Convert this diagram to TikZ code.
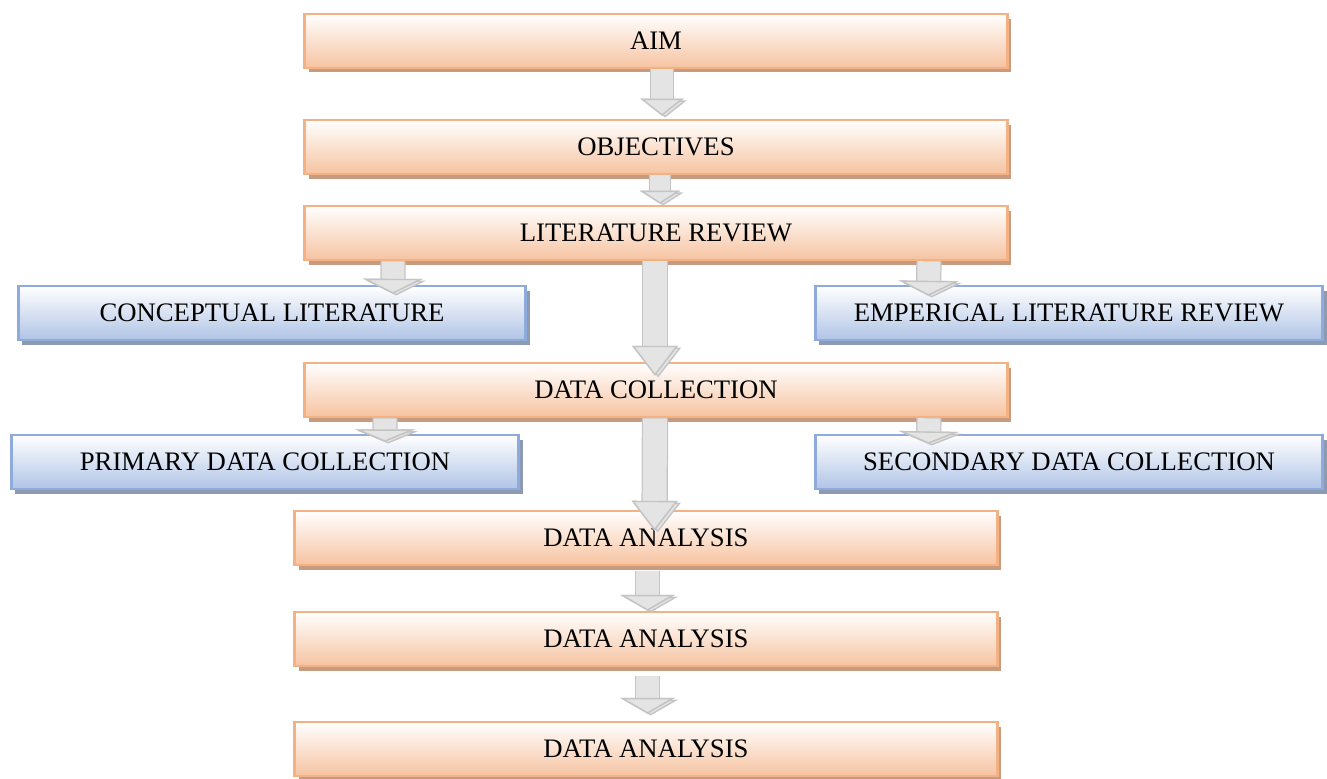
\documentclass[tikz,border=0pt]{standalone}
\usepackage{fontspec}
\setmainfont{Liberation Serif}
\usepackage{tikz}
\usetikzlibrary{calc}
\usetikzlibrary{positioning}
\usetikzlibrary{shadows}
\usetikzlibrary{arrows.meta}
\definecolor{stepLine}{HTML}{F4B183}
\definecolor{stepFill}{HTML}{F6C3A0}
\definecolor{stepShadow}{HTML}{C69B80}
\definecolor{sideLine}{HTML}{8FAADC}
\definecolor{sideFill}{HTML}{B0C4E6}
\definecolor{sideShadow}{HTML}{8C9AB2}
\definecolor{arrowFill}{HTML}{E4E4E4}
\definecolor{arrowEdge}{HTML}{C4C4C4}
\definecolor{arrowShadow}{HTML}{A0A0A0}
\tikzstyle{boxtext} = [font=\fontsize{15.2}{18}\selectfont, minimum height=1.08cm, inner sep=0pt]
\tikzstyle{stepnode} = [boxtext, draw=stepLine, line width=1.5pt, top color=white, bottom color=stepFill, minimum width=14.06cm, drop shadow={shadow xshift=.08cm, shadow yshift=-.09cm, fill=stepShadow, opacity=1}]
\tikzstyle{sidenode} = [boxtext, draw=sideLine, line width=1.5pt, top color=white, bottom color=sideFill, minimum width=10.15cm, drop shadow={shadow xshift=.08cm, shadow yshift=-.09cm, fill=sideShadow, opacity=1}]
\tikzset{
  blockarrow/.style n args={3}{draw=arrowFill, line width=#1,
    -{Triangle[width=#2, length=#3, line width=.8pt, color=arrowEdge, fill=arrowFill]},
    preaction={draw=arrowShadow, transform canvas={xshift=1.8pt, yshift=-1pt}},
    preaction={draw=arrowEdge, line width=#1+1.4pt}}
}

\begin{document}
\begin{tikzpicture}[x=0.02cm, y=-0.02cm]
\useasboundingbox (0,0) rectangle (1327,778);

\node[stepnode] (aim) at (656,41) {AIM};
\node[stepnode] (objectives) at (656,147) {OBJECTIVES};
\node[stepnode] (litreview) at (656,233) {LITERATURE REVIEW};
\node[sidenode] (conceptual) at (272,313) {CONCEPTUAL LITERATURE};
\node[sidenode] (empirical) at (1069,313) {EMPERICAL LITERATURE REVIEW};
\node[stepnode] (datacoll) at (656,390) {DATA COLLECTION};
\node[sidenode] (primary) at (265,462) {PRIMARY DATA COLLECTION};
\node[sidenode] (secondary) at (1069,462) {SECONDARY DATA COLLECTION};
\node[stepnode] (analysisA) at (646,538) {DATA ANALYSIS};
\node[stepnode] (analysisB) at (646,639) {DATA ANALYSIS};
\node[stepnode] (analysisC) at (646,749) {DATA ANALYSIS};

% arrows between the steps
\draw[blockarrow={12pt}{24.5pt}{9.7pt}] ([xshift=.12cm]aim.south) -- ([xshift=.12cm,yshift=.06cm]objectives.north);
\draw[blockarrow={11pt}{23pt}{7.4pt}] ([xshift=.08cm]objectives.south) -- ([xshift=.08cm,yshift=.02cm]litreview.north);
\draw[blockarrow={13pt}{34pt}{8.5pt}] ([xshift=-5.26cm]litreview.south) -- ([xshift=2.42cm,yshift=-.18cm]conceptual.north);
\draw[blockarrow={13pt}{34pt}{8.5pt}] ([xshift=5.46cm]litreview.south) -- ([xshift=-2.81cm,yshift=-.22cm]empirical.north);
\draw[blockarrow={13.6pt}{26pt}{17pt}] ([xshift=-.02cm]litreview.south) -- ([xshift=-.02cm,yshift=-.28cm]datacoll.north);
\draw[blockarrow={13pt}{34pt}{7pt}] ([xshift=-5.42cm]datacoll.south) -- ([xshift=2.4cm,yshift=-.16cm]primary.north);
\draw[blockarrow={13pt}{34pt}{7pt}] ([xshift=5.46cm]datacoll.south) -- ([xshift=-2.81cm,yshift=-.2cm]secondary.north);
\draw[blockarrow={13.6pt}{26pt}{17pt}] ([xshift=-.02cm]datacoll.south) -- ([xshift=.17cm,yshift=-.42cm]analysisA.north);
\draw[blockarrow={13pt}{31pt}{9pt}] ([xshift=.03cm,yshift=-.1cm]analysisA.south) -- ([xshift=.03cm]analysisB.north);
\draw[blockarrow={13pt}{31pt}{9pt}] ([xshift=.03cm,yshift=-.18cm]analysisB.south) -- ([xshift=.03cm,yshift=.14cm]analysisC.north);
\end{tikzpicture}
\end{document}
